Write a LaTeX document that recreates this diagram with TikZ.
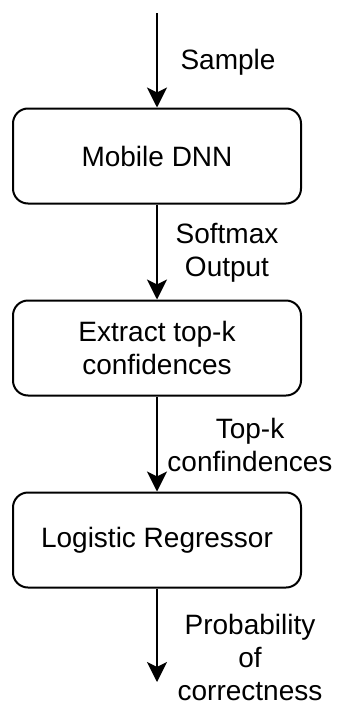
\documentclass[tikz,border=0pt]{standalone}
\usepackage{fontspec}
\setmainfont{Liberation Sans}
\usetikzlibrary{arrows.meta}
\begin{document}
\begin{tikzpicture}[x=1pt,y=-1pt,
  stage/.style={draw=black, line width=2pt, rounded corners=15pt,
    minimum width=288pt, minimum height=95pt, align=center,
    font=\fontsize{28pt}{33pt}\selectfont, inner sep=0pt},
  flow/.style={line width=2pt, -{Stealth[length=20pt,width=20pt,inset=5pt]}},
  lbl/.style={align=center, font=\fontsize{28pt}{33pt}\selectfont, inner sep=0pt}]
\useasboundingbox (0,0) rectangle (337,704);

\node[stage] (dnn) at (157,156) {Mobile DNN};
\node[stage] (topk) at (157,348) {Extract top-k\\confidences};
\node[stage] (lr) at (157,540) {Logistic Regressor};

\coordinate (in) at (157,13);
\coordinate (out) at (157,682);

\draw[flow] (in) -- (dnn.north);
\draw[flow] (dnn.south) -- (topk.north);
\draw[flow] (topk.south) -- (lr.north);
\draw[flow] (lr.south) -- (out);

\node[lbl] (lsample) at (228,62) {Sample};
\node[lbl] (lsoft) at (227,253) {Softmax\\Output};
\node[lbl] (ltopk) at (250,445) {Top-k\\confindences};
\node[lbl] (lprob) at (250,657) {Probability\\of\\correctness};
\end{tikzpicture}
\end{document}
